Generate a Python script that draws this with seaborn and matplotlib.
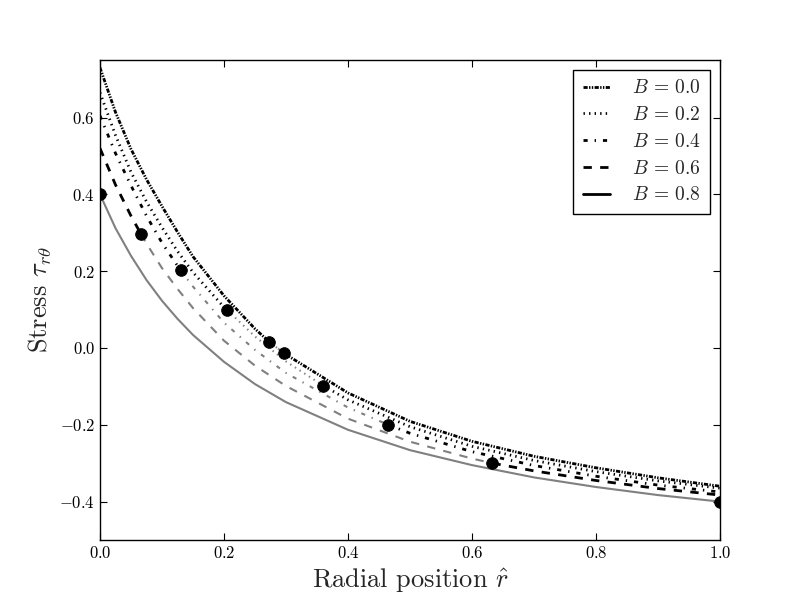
import pandas as pd
import matplotlib.pyplot as plt
import seaborn as sns
from matplotlib.lines import Line2D

r_grid = [0.0, 0.025, 0.05, 0.075, 0.1, 0.125, 0.15, 0.2, 0.25, 0.3,
          0.4, 0.5, 0.6, 0.7, 0.8, 0.9, 1.0]

# Stress values for each Bingham number
tau_b00 = [0.730, 0.614, 0.518, 0.439, 0.369, 0.302, 0.238, 0.136, 0.050, -0.017,
           -0.117, -0.191, -0.243, -0.282, -0.312, -0.338, -0.360]
tau_b02 = [0.665, 0.554, 0.458, 0.381, 0.314, 0.252, 0.197, 0.106, 0.030, -0.035,
           -0.135, -0.205, -0.256, -0.293, -0.322, -0.346, -0.365]
tau_b04 = [0.605, 0.507, 0.423, 0.344, 0.274, 0.214, 0.160, 0.066, -0.005, -0.065,
           -0.155, -0.222, -0.270, -0.306, -0.334, -0.357, -0.375]
tau_b06 = [0.520, 0.425, 0.344, 0.272, 0.208, 0.154, 0.104, 0.019, -0.046, -0.099,
           -0.184, -0.244, -0.288, -0.320, -0.345, -0.366, -0.383]
tau_b08 = [0.400, 0.312, 0.240, 0.177, 0.123, 0.076, 0.034, -0.036, -0.094, -0.141,
           -0.213, -0.266, -0.305, -0.337, -0.362, -0.383, -0.400]

# Yield surfaces (black dots)
yield_r_b00 = [0.273, 0.297]
yield_tau_b00 = [0.016, -0.014]
yield_r_b02 = [0.205, 0.360]
yield_tau_b02 = [0.099, -0.098]
yield_r_b04 = [0.130, 0.465]
yield_tau_b04 = [0.202, -0.200]
yield_r_b06 = [0.066, 0.633]
yield_tau_b06 = [0.297, -0.300]
yield_r_b08 = [0.0, 1.0]
yield_tau_b08 = [0.400, -0.400]

b_values = [0.0, 0.2, 0.4, 0.6, 0.8]
taus = [tau_b00, tau_b02, tau_b04, tau_b06, tau_b08]
yield_rs = [yield_r_b00, yield_r_b02, yield_r_b04, yield_r_b06, yield_r_b08]
yield_taus = [yield_tau_b00, yield_tau_b02, yield_tau_b04, yield_tau_b06, yield_tau_b08]

# line patterns (points, unscaled like the old matplotlib look)
dash_styles = [(3, 1, 1, 1, 1, 1), (1, 3), (3, 5, 1, 5), (6, 6), ()]

sns.set_style("ticks")
plt.rcParams['font.family'] = 'serif'
plt.rcParams['font.serif'] = ['cmr10']
plt.rcParams['mathtext.fontset'] = 'cm'
plt.rcParams['axes.formatter.use_mathtext'] = True
plt.rcParams['lines.scale_dashes'] = False
plt.rcParams['xtick.direction'] = 'in'
plt.rcParams['ytick.direction'] = 'in'
plt.rcParams['xtick.top'] = True
plt.rcParams['ytick.right'] = True
plt.rcParams['axes.edgecolor'] = 'black'
plt.rcParams['axes.linewidth'] = 1.0

fig, ax = plt.subplots(figsize=(8, 6), dpi=100)
fig.subplots_adjust(left=0.125, right=0.9, bottom=0.1, top=0.9)

dots = []
for b, tau, yr, yt, dash in zip(b_values, taus, yield_rs, yield_taus, dash_styles):
    d = pd.DataFrame({'r': r_grid + yr, 'tau': tau + yt})
    d = d.drop_duplicates('r').sort_values('r')
    lo, hi = min(yr), max(yr)
    segments = [
        (d[d.r <= lo], 'black', 2.0),
        (d[(d.r >= lo) & (d.r <= hi)], '0.5', 1.5),
        (d[d.r >= hi], 'black', 2.0),
    ]
    for seg, col, lw in segments:
        if len(seg) < 2:
            continue
        kw = {} if dash == () else {'dashes': dash}
        sns.lineplot(data=seg, x='r', y='tau', ax=ax, color=col, lw=lw,
                     sort=False, estimator=None, **kw)
    dots.append(pd.DataFrame({'r': yr, 'tau': yt}))

dots = pd.concat(dots)
sns.scatterplot(data=dots, x='r', y='tau', ax=ax, color='black', s=70,
                edgecolor='black', zorder=5)

ax.set_xlim(0, 1)
ax.set_ylim(-0.5, 0.75)
ax.set_xticks([0.0, 0.2, 0.4, 0.6, 0.8, 1.0])
ax.set_yticks([-0.4, -0.2, 0.0, 0.2, 0.4, 0.6])
ax.tick_params(labelsize=12, length=5, width=0.8, colors='black')
ax.set_xlabel(r'Radial position $\hat{r}$', fontsize=19)
ax.set_ylabel(r'Stress $\tau_{r\theta}$', fontsize=19)

handles = []
for b, dash in zip(b_values, dash_styles):
    kw = {'linestyle': '-'} if dash == () else {'dashes': dash}
    handles.append(Line2D([], [], color='black', lw=2, **kw))
labels = [f'$B$ = {b:.1f}' for b in b_values]
leg = ax.legend(handles, labels, loc='upper right', fontsize=14, handlelength=1.4,
                handletextpad=1.1, borderpad=0.5, labelspacing=0.45,
                fancybox=False, framealpha=1, borderaxespad=0.5)
leg.get_frame().set_edgecolor('black')

plt.savefig('out.png')
